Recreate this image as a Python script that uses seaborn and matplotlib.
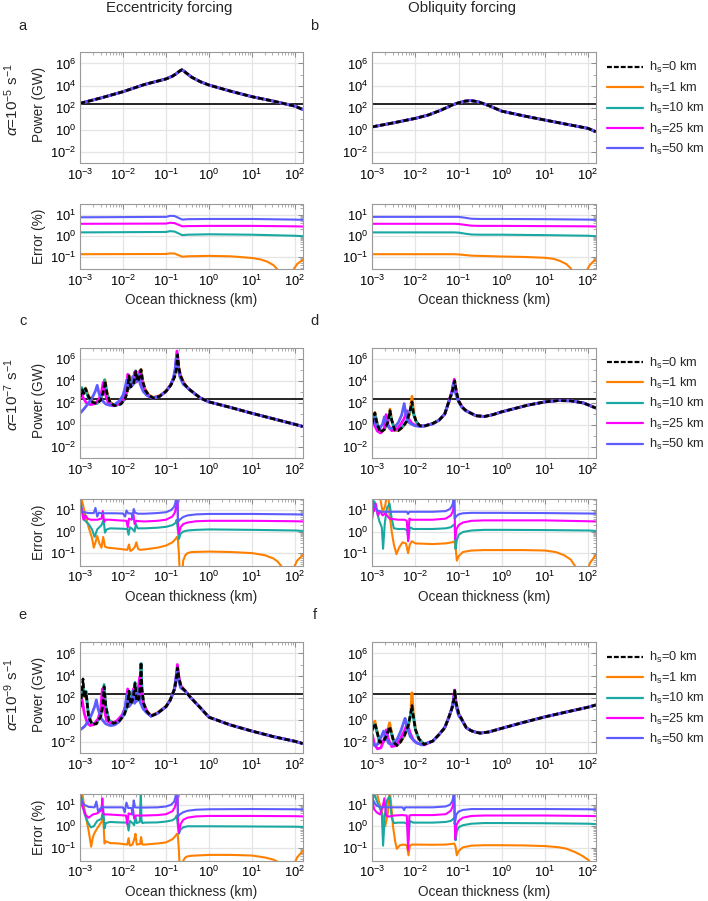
import numpy as np
import matplotlib
matplotlib.use("Agg")
import matplotlib.pyplot as plt
import seaborn as sns
from matplotlib.lines import Line2D
from matplotlib.ticker import FixedLocator, LogLocator, LogFormatterSciNotation, NullFormatter

# ---------------- labels ----------------
SERIES_LABELS = ["h$_s$=0 km", "h$_s$=1 km", "h$_s$=10 km", "h$_s$=25 km", "h$_s$=50 km"]
COLUMN_TITLES = ["Eccentricity forcing", "Obliquity forcing"]
ROW_ALPHA_EXP = [-5, -7, -9]
PANEL_LETTERS = ["a", "b", "c", "d", "e", "f"]
X_TICK_EXP = [-3, -2, -1, 0, 1, 2]
POWER_TICK_EXP = [-2, 0, 2, 4, 6]
ERROR_TICK_EXP = [-1, 0, 1]
THRESHOLD_LOG = 2.32          # horizontal reference power (log10 GW)

# ---------------- data (all values are log10) ----------------
# panel a power (all h_s overlap)
pa_x = [-3.0, -2.5, -2.0, -1.5, -1.2, -1.0, -0.85, -0.75, -0.68, -0.63, -0.58, -0.5, -0.4, -0.2, 0.0, 0.5, 1.0, 1.5, 2.0, 2.18]
pa_y = [2.4, 2.9, 3.45, 4.1, 4.4, 4.6, 4.85, 5.1, 5.32, 5.42, 5.3, 5.05, 4.75, 4.35, 4.05, 3.5, 3.0, 2.6, 2.15, 1.85]
# panel b power
pb_x = [-3.0, -2.5, -2.0, -1.7, -1.4, -1.15, -1.0, -0.85, -0.72, -0.55, -0.3, 0.0, 0.5, 1.0, 1.5, 2.0, 2.18]
pb_y = [0.28, 0.65, 1.05, 1.35, 1.8, 2.25, 2.45, 2.6, 2.65, 2.55, 2.2, 1.7, 1.28, 0.9, 0.52, 0.15, -0.15]

# panel a error
ea_x = [-3.0, -1.0, -0.9, -0.8, -0.62, -0.5, 0.0, 1.0, 2.0, 2.18]
ea_h10 = [0.16, 0.18, 0.22, 0.2, 0.03, 0.05, 0.07, 0.05, 0.0, -0.02]
ea_h25 = [0.57, 0.58, 0.62, 0.6, 0.45, 0.46, 0.47, 0.47, 0.45, 0.44]
ea_h50 = [0.88, 0.9, 0.95, 0.94, 0.77, 0.79, 0.8, 0.8, 0.77, 0.76]
ea_h1_x = [-3.0, -1.0, -0.9, -0.8, -0.62, -0.5, 0.0, 0.5, 1.0, 1.2, 1.35, 1.5, 1.6, 1.7, 1.8, 1.9, 1.97, 2.05, 2.18]
ea_h1_y = [-0.88, -0.87, -0.84, -0.85, -1.0, -0.98, -0.96, -0.98, -1.06, -1.13, -1.23, -1.4, -1.62, -2.1, -2.6, -2.2, -1.6, -1.35, -1.15]
# panel b error
eb_x = [-3.0, -1.1, -1.0, -0.85, -0.7, -0.5, 0.0, 1.0, 2.0, 2.18]
eb_h10 = [0.16, 0.16, 0.15, 0.1, 0.06, 0.05, 0.05, 0.03, 0.0, -0.02]
eb_h25 = [0.57, 0.57, 0.56, 0.52, 0.48, 0.47, 0.47, 0.46, 0.45, 0.44]
eb_h50 = [0.9, 0.9, 0.9, 0.86, 0.81, 0.8, 0.8, 0.79, 0.77, 0.76]
eb_h1_x = [-3.0, -1.1, -1.0, -0.85, -0.7, -0.5, 0.0, 0.5, 1.0, 1.2, 1.35, 1.5, 1.6, 1.7, 1.8, 1.9, 1.97, 2.05, 2.18]
eb_h1_y = [-0.88, -0.88, -0.89, -0.92, -0.95, -0.96, -0.99, -1.01, -1.05, -1.1, -1.2, -1.35, -1.55, -2.0, -2.6, -2.3, -1.65, -1.38, -1.12]

# panel c power
pc_tail_x = [-0.35, -0.2, 0.0, 0.5, 1.0, 1.5, 2.0, 2.18]
pc_tail_y = [2.9, 2.45, 2.1, 1.6, 1.07, 0.57, 0.07, -0.12]
pc_h0_x = [-3.0, -2.95, -2.91, -2.87, -2.8, -2.7, -2.6, -2.52, -2.46, -2.42, -2.37, -2.3, -2.2, -2.05, -1.95, -1.9, -1.86, -1.82, -1.76, -1.72, -1.70, -1.66, -1.62, -1.58, -1.54, -1.48, -1.4, -1.3, -1.15, -1.0, -0.88, -0.8, -0.76, -0.73, -0.70, -0.66, -0.58, -0.48]
pc_h0_y = [2.5, 3.2, 2.85, 3.3, 2.55, 2.05, 1.95, 2.25, 2.95, 4.0, 2.85, 2.05, 1.75, 1.9, 2.35, 3.05, 4.45, 3.45, 3.65, 4.35, 4.85, 3.95, 4.25, 5.0, 3.95, 3.15, 2.7, 2.45, 2.6, 3.05, 3.65, 4.35, 5.0, 6.35, 5.15, 4.45, 3.75, 3.3]
pc_h1_y = [2.6, 3.3, 2.9, 3.35, 2.6, 2.1, 2.0, 2.3, 3.0, 4.1, 2.9, 2.1, 1.8, 1.95, 2.4, 3.1, 4.5, 3.5, 3.7, 4.4, 4.9, 4.0, 4.3, 5.05, 4.0, 3.2, 2.75, 2.5, 2.65, 3.1, 3.7, 4.4, 5.1, 6.45, 5.2, 4.5, 3.8, 3.3]
pc_h10_x = [-3.0, -2.96, -2.92, -2.88, -2.81, -2.71, -2.61, -2.53, -2.47, -2.43, -2.38, -2.31, -2.21, -2.06, -1.96, -1.91, -1.87, -1.83, -1.77, -1.73, -1.71, -1.67, -1.63, -1.59, -1.55, -1.49, -1.41, -1.3, -1.15, -1.0, -0.89, -0.81, -0.77, -0.74, -0.71, -0.67, -0.59, -0.48]
pc_h10_y = [2.7, 3.4, 2.95, 3.3, 2.5, 2.05, 1.95, 2.25, 3.0, 4.1, 2.85, 2.05, 1.75, 1.9, 2.35, 3.05, 4.5, 3.45, 3.65, 4.35, 4.9, 3.95, 4.25, 5.0, 3.95, 3.15, 2.7, 2.45, 2.6, 3.05, 3.65, 4.35, 5.05, 6.5, 5.15, 4.45, 3.75, 3.3]
pc_h25_x = [-3.0, -2.97, -2.93, -2.85, -2.75, -2.65, -2.56, -2.5, -2.46, -2.41, -2.34, -2.24, -2.1, -1.98, -1.93, -1.89, -1.85, -1.79, -1.75, -1.73, -1.69, -1.65, -1.61, -1.57, -1.51, -1.43, -1.32, -1.15, -1.0, -0.9, -0.82, -0.78, -0.745, -0.71, -0.67, -0.59, -0.48]
pc_h25_y = [2.8, 2.95, 2.5, 2.0, 1.85, 1.95, 2.3, 3.0, 3.85, 2.8, 2.0, 1.75, 1.9, 2.35, 3.1, 4.6, 3.45, 3.6, 4.3, 4.8, 3.9, 4.2, 4.9, 3.9, 3.1, 2.7, 2.45, 2.6, 3.05, 3.6, 4.3, 5.1, 6.7, 5.2, 4.45, 3.75, 3.3]
pc_h50_x = [-3.0, -2.9, -2.8, -2.7, -2.64, -2.6, -2.56, -2.5, -2.4, -2.3, -2.2, -2.08, -2.0, -1.95, -1.91, -1.86, -1.8, -1.77, -1.73, -1.68, -1.64, -1.6, -1.53, -1.45, -1.33, -1.15, -1.0, -0.9, -0.83, -0.79, -0.755, -0.72, -0.68, -0.6, -0.48]
pc_h50_y = [1.07, 1.5, 2.0, 2.6, 3.1, 3.6, 2.9, 2.3, 1.9, 1.78, 1.85, 2.2, 2.7, 3.4, 4.1, 3.3, 3.6, 4.4, 3.8, 4.1, 4.6, 3.7, 3.05, 2.7, 2.45, 2.6, 3.05, 3.55, 4.2, 5.0, 6.3, 5.1, 4.4, 3.7, 3.3]

# panel d power
pd_tail_x = [-0.75, -0.6, -0.4, -0.2, 0.0, 0.3, 0.6, 1.0, 1.3, 1.6, 1.9, 2.18]
pd_tail_y = [1.15, 0.85, 0.78, 0.95, 1.2, 1.5, 1.8, 2.1, 2.22, 2.2, 2.0, 1.55]
pd_h1_x = [-3.0, -2.97, -2.94, -2.9, -2.82, -2.72, -2.64, -2.59, -2.55, -2.48, -2.4, -2.3, -2.2, -2.13, -2.08, -2.04, -1.98, -1.9, -1.8, -1.6, -1.45, -1.32, -1.22, -1.15, -1.09, -1.05, -1.0, -0.92, -0.84]
pd_h1_y = [0.2, 0.7, 1.15, 0.4, -0.7, -0.4, 0.3, 1.45, 0.5, -0.45, -0.5, -0.2, 0.3, 1.1, 2.6, 1.1, 0.3, -0.05, -0.1, 0.15, 0.45, 1.0, 2.2, 3.0, 4.05, 3.0, 2.2, 1.65, 1.35]
pd_h0_y = [0.15, 0.75, 1.1, 0.3, -0.65, -0.4, 0.25, 1.3, 0.45, -0.45, -0.5, -0.2, 0.35, 1.2, 2.1, 1.0, 0.3, -0.05, -0.1, 0.15, 0.45, 1.0, 2.2, 3.0, 4.0, 3.0, 2.2, 1.65, 1.35]
pd_h10_y = [0.3, 0.9, 1.0, 0.3, -0.6, -0.35, 0.3, 1.2, 0.4, -0.4, -0.45, -0.15, 0.4, 1.3, 1.7, 0.9, 0.3, -0.05, -0.1, 0.15, 0.45, 1.0, 2.2, 3.0, 4.0, 3.0, 2.2, 1.65, 1.35]
pd_h25_x = [-3.0, -2.95, -2.88, -2.8, -2.72, -2.68, -2.63, -2.55, -2.45, -2.35, -2.26, -2.2, -2.16, -2.08, -1.98, -1.85, -1.6, -1.45, -1.32, -1.22, -1.15, -1.1, -1.06, -1.0, -0.92, -0.84]
pd_h25_y = [0.9, 0.0, -0.55, -0.7, -0.3, 0.95, 0.0, -0.5, -0.4, 0.0, 0.6, 1.3, 0.6, 0.15, -0.05, -0.1, 0.12, 0.45, 1.0, 2.2, 3.1, 4.15, 3.0, 2.2, 1.65, 1.35]
pd_h50_x = [-3.0, -2.96, -2.9, -2.83, -2.76, -2.72, -2.68, -2.6, -2.5, -2.4, -2.32, -2.26, -2.22, -2.14, -2.02, -1.88, -1.6, -1.45, -1.32, -1.22, -1.16, -1.12, -1.08, -1.0, -0.92, -0.84]
pd_h50_y = [1.0, 0.5, -0.1, -0.3, 0.1, 0.75, 0.2, -0.3, -0.25, 0.2, 0.9, 1.95, 0.9, 0.2, -0.05, -0.12, 0.1, 0.45, 1.05, 2.1, 2.8, 3.8, 3.0, 2.1, 1.6, 1.3]

# panel e power
pe_tail_x = [-0.3, -0.2, 0.0, 0.5, 1.0, 1.5, 2.0, 2.18]
pe_tail_y = [1.5, 1.1, 0.25, -0.45, -1.0, -1.5, -1.92, -2.12]
pe_h0_x = [-3.0, -2.96, -2.93, -2.9, -2.86, -2.8, -2.72, -2.62, -2.52, -2.47, -2.44, -2.4, -2.33, -2.22, -2.1, -1.98, -1.9, -1.86, -1.82, -1.76, -1.72, -1.68, -1.63, -1.6, -1.58, -1.56, -1.52, -1.45, -1.35, -1.2, -1.0, -0.9, -0.8, -0.76, -0.73, -0.7, -0.65, -0.55, -0.42]
pe_h0_y = [1.2, 2.3, 3.7, 2.0, 2.5, 0.3, -0.4, -0.35, 0.3, 1.3, 3.0, 1.2, -0.05, -0.3, -0.15, 0.4, 1.2, 2.6, 1.4, 2.0, 3.3, 1.7, 1.9, 3.0, 5.2, 2.8, 1.5, 0.8, 0.35, 0.6, 1.2, 1.8, 2.8, 3.7, 4.7, 3.8, 3.0, 2.6, 2.0]
pe_h1_y = [1.3, 2.2, 3.0, 2.1, 2.4, 0.35, -0.35, -0.3, 0.35, 1.3, 2.9, 1.2, 0.0, -0.28, -0.12, 0.45, 1.25, 2.5, 1.45, 2.05, 3.2, 1.75, 1.95, 3.1, 4.6, 2.8, 1.55, 0.85, 0.4, 0.65, 1.25, 1.85, 2.85, 3.75, 4.75, 3.85, 3.05, 2.65, 2.0]
pe_h10_y = [1.4, 2.4, 2.9, 2.2, 2.6, 0.35, -0.35, -0.3, 0.35, 1.4, 3.2, 1.25, 0.0, -0.28, -0.12, 0.45, 1.2, 2.6, 1.4, 2.0, 3.4, 1.7, 1.9, 3.1, 5.1, 2.8, 1.5, 0.8, 0.35, 0.6, 1.2, 1.8, 2.8, 3.7, 4.7, 3.8, 3.0, 2.6, 2.0]
pe_h25_x = [-3.0, -2.95, -2.9, -2.83, -2.76, -2.68, -2.58, -2.52, -2.48, -2.44, -2.38, -2.28, -2.15, -2.02, -1.94, -1.89, -1.85, -1.79, -1.76, -1.72, -1.68, -1.65, -1.61, -1.57, -1.52, -1.45, -1.35, -1.2, -1.0, -0.9, -0.8, -0.765, -0.735, -0.7, -0.65, -0.55, -0.42]
pe_h25_y = [1.1, 1.8, 0.6, -0.3, -0.5, -0.4, 0.1, 0.9, 2.8, 1.0, -0.05, -0.3, -0.1, 0.45, 1.2, 2.8, 1.3, 1.9, 2.8, 1.6, 1.8, 2.7, 3.9, 2.3, 1.4, 0.8, 0.35, 0.6, 1.2, 1.8, 2.8, 3.8, 5.0, 3.8, 3.0, 2.6, 2.0]
pe_h50_x = [-3.0, -2.9, -2.8, -2.72, -2.66, -2.62, -2.58, -2.5, -2.4, -2.3, -2.2, -2.1, -2.0, -1.95, -1.91, -1.86, -1.8, -1.77, -1.73, -1.69, -1.65, -1.6, -1.53, -1.45, -1.35, -1.2, -1.0, -0.9, -0.81, -0.775, -0.745, -0.71, -0.66, -0.55, -0.42]
pe_h50_y = [-0.9, -0.6, -0.1, 0.6, 1.2, 1.8, 1.0, 0.1, -0.35, -0.5, -0.45, -0.2, 0.4, 1.2, 2.3, 1.2, 1.6, 2.6, 1.5, 1.8, 2.8, 1.6, 1.0, 0.65, 0.35, 0.6, 1.2, 1.8, 2.7, 3.6, 4.5, 3.6, 2.9, 2.6, 2.0]

# panel f power
pf_tail_x = [-0.6, -0.5, -0.3, 0.0, 0.5, 1.0, 1.5, 2.0, 2.18]
pf_tail_y = [-1.1, -1.18, -1.08, -0.75, -0.22, 0.28, 0.72, 1.15, 1.35]
pf_h1_x = [-3.0, -2.97, -2.94, -2.9, -2.83, -2.74, -2.66, -2.6, -2.56, -2.5, -2.43, -2.35, -2.25, -2.16, -2.11, -2.08, -2.05, -2.0, -1.92, -1.8, -1.6, -1.45, -1.32, -1.22, -1.15, -1.11, -1.085, -1.06, -1.0, -0.93, -0.82, -0.7]
pf_h1_y = [-1.0, -0.4, -0.1, -0.8, -2.1, -1.9, -1.2, -0.25, -1.0, -2.0, -2.3, -2.0, -1.4, -0.5, 0.5, 2.45, 0.6, -0.8, -1.7, -2.2, -1.9, -1.3, -0.7, 0.3, 1.1, 1.8, 2.6, 1.6, 0.6, 0.1, -0.7, -0.98]
pf_h0_y = [-0.9, -0.5, -0.3, -0.9, -2.0, -1.95, -1.3, -0.6, -1.1, -2.0, -2.3, -2.0, -1.35, -0.4, 0.6, 1.3, 0.4, -0.85, -1.7, -2.2, -1.9, -1.3, -0.7, 0.3, 1.1, 1.8, 2.65, 1.6, 0.6, 0.1, -0.7, -0.98]
pf_h10_y = [-0.8, -0.6, -0.4, -1.0, -1.9, -1.95, -1.35, -0.8, -1.2, -2.0, -2.25, -1.95, -1.3, -0.35, 0.5, 0.9, 0.3, -0.9, -1.7, -2.2, -1.9, -1.3, -0.7, 0.3, 1.1, 1.8, 2.55, 1.6, 0.6, 0.1, -0.7, -0.98]
pf_h25_x = [-3.0, -2.95, -2.88, -2.8, -2.72, -2.68, -2.63, -2.55, -2.45, -2.35, -2.26, -2.2, -2.16, -2.12, -2.05, -1.95, -1.8, -1.6, -1.45, -1.32, -1.22, -1.15, -1.12, -1.095, -1.07, -1.0, -0.93, -0.82, -0.7]
pf_h25_y = [-1.3, -2.2, -2.6, -2.5, -1.7, -0.9, -1.7, -2.4, -2.3, -1.7, -1.0, -0.45, -0.7, -1.2, -1.8, -2.1, -2.25, -1.9, -1.3, -0.7, 0.3, 1.1, 1.8, 2.7, 1.6, 0.5, 0.05, -0.7, -0.98]
pf_h50_x = [-3.0, -2.95, -2.88, -2.8, -2.74, -2.7, -2.62, -2.52, -2.42, -2.33, -2.27, -2.24, -2.2, -2.12, -2.0, -1.85, -1.6, -1.45, -1.32, -1.22, -1.16, -1.13, -1.1, -1.07, -1.0, -0.93, -0.82, -0.7]
pf_h50_y = [-1.9, -2.3, -2.2, -1.6, -1.0, -1.4, -2.1, -2.2, -1.7, -0.9, -0.2, 0.15, -0.5, -1.5, -2.0, -2.25, -1.9, -1.3, -0.65, 0.3, 1.0, 1.6, 2.2, 1.4, 0.4, 0.0, -0.7, -0.98]

# panel c error
ec_h1_x = [-3.0, -2.96, -2.88, -2.8, -2.72, -2.68, -2.64, -2.6, -2.55, -2.5, -2.46, -2.42, -2.35, -2.1, -1.9, -1.86, -1.83, -1.78, -1.72, -1.69, -1.65, -1.6, -1.5, -1.2, -1.0, -0.85, -0.78, -0.745, -0.725, -0.7, -0.67, -0.64, -0.6, -0.55, -0.5, -0.4, 0.0, 0.5, 1.0, 1.3, 1.5, 1.6, 1.7, 1.8, 1.9, 1.97, 2.05, 2.18]
ec_h1_y = [2.0, 1.5, 0.8, 0.2, -0.3, -0.75, -0.5, -0.2, -0.55, -0.75, -0.25, -0.7, -0.75, -0.8, -0.85, -0.6, -0.9, -0.85, -0.7, -0.5, -0.8, -0.85, -0.83, -0.75, -0.65, -0.5, -0.35, -0.25, -0.35, -1.0, -2.5, -2.5, -1.35, -1.1, -1.0, -0.95, -0.93, -0.95, -1.0, -1.1, -1.25, -1.4, -1.65, -2.3, -2.4, -1.7, -1.35, -1.1]
ec_h10_x = [-3.0, -2.95, -2.88, -2.8, -2.72, -2.66, -2.6, -2.5, -2.45, -2.42, -2.38, -2.3, -2.1, -1.9, -1.87, -1.84, -1.78, -1.73, -1.7, -1.66, -1.6, -1.5, -1.2, -1.0, -0.85, -0.78, -0.75, -0.73, -0.7, -0.66, -0.6, -0.5, -0.3, 0.0, 1.0, 2.0, 2.18]
ec_h10_y = [1.5, 1.0, 0.5, 0.35, 0.1, -0.25, 0.1, 0.3, 0.55, -0.05, 0.1, 0.15, 0.14, 0.12, -0.15, 0.2, 0.12, 0.0, 0.35, 0.15, 0.15, 0.15, 0.18, 0.22, 0.3, 0.4, 0.55, 0.2, -0.35, -0.1, 0.0, 0.05, 0.08, 0.1, 0.08, 0.05, 0.03]
ec_h25_x = [-3.0, -2.96, -2.92, -2.87, -2.82, -2.75, -2.6, -2.5, -2.47, -2.44, -2.4, -2.3, -2.1, -1.92, -1.89, -1.86, -1.8, -1.76, -1.73, -1.69, -1.6, -1.5, -1.2, -1.0, -0.85, -0.79, -0.76, -0.745, -0.735, -0.72, -0.7, -0.66, -0.6, -0.5, -0.3, 0.0, 1.0, 2.0, 2.18]
ec_h25_y = [1.4, 1.0, 0.55, 0.75, 0.6, 0.55, 0.55, 0.6, 0.95, 0.45, 0.55, 0.55, 0.52, 0.5, 0.2, 0.6, 0.55, 0.85, 0.35, 0.5, 0.48, 0.47, 0.5, 0.55, 0.7, 0.9, 1.2, 1.8, 2.0, 0.3, -0.1, 0.2, 0.35, 0.42, 0.48, 0.5, 0.5, 0.48, 0.47]
ec_h50_x = [-3.0, -2.9, -2.8, -2.68, -2.64, -2.6, -2.56, -2.5, -2.2, -2.0, -1.95, -1.92, -1.88, -1.8, -1.78, -1.75, -1.72, -1.65, -1.5, -1.2, -1.0, -0.88, -0.81, -0.78, -0.765, -0.75, -0.74, -0.72, -0.68, -0.6, -0.5, -0.3, 0.0, 1.0, 2.0, 2.18]
ec_h50_y = [0.95, 0.9, 0.86, 0.86, 1.1, 0.7, 0.88, 0.85, 0.85, 0.84, 0.7, 0.98, 0.85, 0.84, 0.6, 1.05, 0.88, 0.83, 0.83, 0.86, 0.9, 1.0, 1.15, 1.35, 1.6, 2.0, 2.0, 0.45, 0.55, 0.68, 0.75, 0.8, 0.82, 0.82, 0.8, 0.79]

# panel d error
ed_h1_x = [-3.0, -2.96, -2.9, -2.82, -2.76, -2.7, -2.66, -2.63, -2.6, -2.55, -2.5, -2.44, -2.38, -2.3, -2.22, -2.17, -2.13, -2.08, -2.0, -1.6, -1.3, -1.15, -1.1, -1.07, -1.04, -1.0, -0.9, -0.7, -0.4, 0.0, 0.5, 1.0, 1.25, 1.45, 1.6, 1.7, 1.78, 1.85, 1.95, 2.05, 2.18]
ed_h1_y = [1.2, 1.8, 1.8, 1.6, 0.9, 1.2, 1.8, 1.9, 0.8, 0.0, -0.6, -1.05, -0.75, -0.5, -0.55, -1.0, -0.6, -0.45, -0.55, -0.58, -0.55, -0.5, -0.45, -0.7, -1.35, -1.15, -0.95, -0.88, -0.86, -0.86, -0.86, -0.88, -0.95, -1.1, -1.3, -1.6, -2.2, -2.5, -2.0, -1.45, -1.1]
ed_h10_x = [-3.0, -2.95, -2.9, -2.84, -2.78, -2.75, -2.71, -2.66, -2.6, -2.55, -2.5, -2.4, -2.25, -2.19, -2.16, -2.13, -2.05, -1.6, -1.3, -1.18, -1.12, -1.09, -1.07, -1.04, -1.0, -0.9, -0.7, -0.4, 0.0, 1.0, 2.0, 2.18]
ed_h10_y = [0.6, 1.4, 1.0, 0.5, 0.2, -0.8, 0.4, 1.1, 1.3, 0.6, 0.15, 0.12, 0.12, 0.05, -0.35, 0.2, 0.12, 0.12, 0.15, 0.2, 0.3, 0.35, -0.8, -0.4, -0.15, -0.02, 0.05, 0.08, 0.08, 0.07, 0.05, 0.03]
ed_h25_x = [-3.0, -2.96, -2.92, -2.87, -2.82, -2.76, -2.7, -2.6, -2.4, -2.25, -2.2, -2.17, -2.14, -2.1, -1.6, -1.3, -1.18, -1.13, -1.11, -1.095, -1.08, -1.05, -1.0, -0.9, -0.7, -0.4, 0.0, 1.0, 2.0, 2.18]
ed_h25_y = [1.45, 0.95, 1.3, 0.75, 0.95, 0.75, 0.85, 0.6, 0.55, 0.55, 0.5, -0.45, 0.6, 0.55, 0.55, 0.6, 0.75, 0.95, 1.3, 1.7, -0.35, 0.1, 0.3, 0.42, 0.5, 0.52, 0.52, 0.52, 0.48, 0.47]
ed_h50_x = [-3.0, -2.95, -2.9, -2.8, -2.6, -2.3, -2.2, -2.17, -2.14, -1.6, -1.3, -1.2, -1.15, -1.12, -1.11, -1.09, -1.05, -1.0, -0.9, -0.7, -0.4, 0.0, 1.0, 2.0, 2.18]
ed_h50_y = [1.1, 1.25, 1.0, 0.92, 0.92, 0.92, 0.92, 0.82, 0.92, 0.92, 0.95, 1.05, 1.2, 1.4, 1.6, 0.6, 0.72, 0.8, 0.85, 0.87, 0.87, 0.87, 0.86, 0.84, 0.83]

# panel e error
ee_h1_x = [-3.0, -2.95, -2.88, -2.8, -2.74, -2.7, -2.66, -2.6, -2.5, -2.46, -2.43, -2.4, -2.3, -2.1, -1.9, -1.87, -1.84, -1.78, -1.73, -1.71, -1.68, -1.6, -1.58, -1.55, -1.5, -1.2, -1.0, -0.85, -0.78, -0.745, -0.725, -0.7, -0.67, -0.64, -0.6, -0.55, -0.5, -0.4, 0.0, 0.5, 1.0, 1.3, 1.5, 1.6, 1.7, 1.8, 1.9, 1.97, 2.05, 2.18]
ee_h1_y = [2.0, 1.6, 0.6, -0.2, -0.95, -0.5, -0.3, -0.1, 0.2, 0.4, -0.8, -0.7, -0.78, -0.8, -0.85, -0.55, -0.9, -0.85, -0.55, -0.35, -0.85, -0.82, -0.5, -0.85, -0.85, -0.8, -0.75, -0.6, -0.45, -0.35, -0.42, -1.1, -2.5, -2.5, -1.6, -1.45, -1.4, -1.37, -1.33, -1.33, -1.36, -1.45, -1.55, -1.65, -1.9, -2.4, -2.5, -1.8, -1.45, -1.15]
ee_h10_x = [-3.0, -2.95, -2.9, -2.82, -2.75, -2.68, -2.6, -2.5, -2.46, -2.43, -2.4, -2.3, -2.1, -1.9, -1.87, -1.84, -1.78, -1.74, -1.71, -1.68, -1.61, -1.585, -1.57, -1.55, -1.5, -1.2, -1.0, -0.85, -0.78, -0.75, -0.73, -0.7, -0.66, -0.6, -0.5, -0.3, 0.0, 1.0, 2.0, 2.18]
ee_h10_y = [1.6, 1.2, 0.6, 0.2, -0.05, 0.0, 0.25, 0.35, 0.8, -0.1, 0.15, 0.2, 0.18, 0.17, -0.2, 0.25, 0.15, 0.05, 0.45, 0.15, 0.2, 1.6, 0.3, 0.15, 0.17, 0.18, 0.22, 0.28, 0.38, 0.5, 0.15, -0.35, -0.15, -0.05, 0.0, 0.0, 0.0, -0.01, -0.02, -0.03]
ee_h25_x = [-3.0, -2.96, -2.92, -2.86, -2.8, -2.7, -2.6, -2.5, -2.48, -2.46, -2.43, -2.35, -2.1, -1.93, -1.9, -1.87, -1.8, -1.77, -1.74, -1.7, -1.6, -1.5, -1.2, -1.0, -0.85, -0.79, -0.76, -0.745, -0.735, -0.72, -0.7, -0.66, -0.6, -0.5, -0.3, 0.0, 1.0, 2.0, 2.18]
ee_h25_y = [1.5, 1.0, 0.8, 0.5, 0.4, 0.55, 0.6, 0.75, 1.3, 0.6, 0.55, 0.55, 0.52, 0.5, 0.1, 0.6, 0.55, 0.85, 0.35, 0.5, 0.5, 0.5, 0.52, 0.56, 0.7, 0.9, 1.2, 1.8, 2.0, 0.2, -0.3, 0.1, 0.3, 0.4, 0.46, 0.48, 0.48, 0.47, 0.46]
ee_h50_x = [-3.0, -2.9, -2.8, -2.66, -2.62, -2.58, -2.5, -2.2, -2.0, -1.96, -1.92, -1.88, -1.8, -1.78, -1.75, -1.72, -1.65, -1.5, -1.2, -1.0, -0.88, -0.81, -0.78, -0.765, -0.75, -0.74, -0.72, -0.68, -0.6, -0.5, -0.3, 0.0, 1.0, 2.0, 2.18]
ee_h50_y = [1.3, 1.0, 0.9, 0.88, 1.15, 0.7, 0.88, 0.88, 0.88, 0.65, 1.1, 0.85, 0.85, 0.55, 1.2, 0.88, 0.87, 0.87, 0.88, 0.92, 1.0, 1.15, 1.35, 1.6, 2.0, 2.0, 0.45, 0.55, 0.65, 0.72, 0.77, 0.79, 0.8, 0.79, 0.78]

# panel f error
ef_h1_x = [-3.0, -2.96, -2.9, -2.84, -2.78, -2.7, -2.64, -2.6, -2.57, -2.52, -2.47, -2.43, -2.36, -2.28, -2.2, -2.16, -2.13, -2.08, -2.0, -1.6, -1.3, -1.15, -1.1, -1.07, -1.04, -1.0, -0.9, -0.7, -0.4, 0.0, 0.5, 1.0, 1.3, 1.5, 1.7, 1.85, 2.0, 2.18]
ef_h1_y = [1.3, 1.7, 1.6, 1.1, 0.7, 0.0, 0.6, 1.7, 1.2, 0.0, -0.7, -1.05, -0.88, -0.85, -0.88, -1.35, -0.9, -0.85, -0.85, -0.86, -0.85, -0.82, -0.8, -0.95, -1.35, -1.15, -0.98, -0.9, -0.88, -0.88, -0.89, -0.92, -0.97, -1.04, -1.2, -1.35, -1.55, -1.9]
ef_h10_x = [-3.0, -2.95, -2.9, -2.84, -2.78, -2.75, -2.71, -2.66, -2.6, -2.55, -2.5, -2.4, -2.25, -2.19, -2.16, -2.13, -2.05, -1.6, -1.3, -1.18, -1.12, -1.09, -1.07, -1.04, -1.0, -0.9, -0.7, -0.4, 0.0, 1.0, 2.0, 2.18]
ef_h10_y = [1.2, 1.5, 1.2, 0.9, 0.6, -0.9, 0.5, 1.2, 1.4, 0.4, 0.15, 0.17, 0.17, 0.1, -0.65, 0.25, 0.17, 0.17, 0.2, 0.25, 0.35, 0.42, -0.65, -0.25, -0.05, 0.05, 0.12, 0.15, 0.15, 0.14, 0.12, 0.1]
ef_h25_x = [-3.0, -2.96, -2.9, -2.82, -2.76, -2.72, -2.68, -2.62, -2.5, -2.3, -2.2, -2.17, -2.14, -2.1, -1.6, -1.3, -1.18, -1.13, -1.11, -1.095, -1.08, -1.05, -1.0, -0.9, -0.7, -0.4, 0.0, 1.0, 2.0, 2.18]
ef_h25_y = [1.3, 0.8, 0.65, 0.55, 0.9, 1.3, 0.5, 0.45, 0.5, 0.52, 0.5, -1.1, 0.5, 0.52, 0.52, 0.56, 0.72, 0.95, 1.3, 1.7, -0.6, 0.05, 0.25, 0.4, 0.48, 0.5, 0.5, 0.5, 0.48, 0.47]
ef_h50_x = [-3.0, -2.95, -2.9, -2.8, -2.6, -2.3, -2.26, -2.24, -2.2, -1.6, -1.3, -1.2, -1.15, -1.12, -1.11, -1.09, -1.05, -1.0, -0.9, -0.7, -0.4, 0.0, 1.0, 2.0, 2.18]
ef_h50_y = [1.3, 1.1, 0.95, 0.9, 0.88, 0.88, 0.75, 0.88, 0.88, 0.88, 0.92, 1.0, 1.15, 1.35, 1.6, 0.1, 0.55, 0.68, 0.76, 0.8, 0.8, 0.8, 0.8, 0.79, 0.78]

# ---------------- assemble per panel (series order: 0,1,10,25,50 km) ----------------
POWER = {
    "a": [(pa_x, pa_y)] * 5,
    "b": [(pb_x, pb_y)] * 5,
    "c": [(pc_h0_x + pc_tail_x, pc_h0_y + pc_tail_y), (pc_h0_x + pc_tail_x, pc_h1_y + pc_tail_y),
          (pc_h10_x + pc_tail_x, pc_h10_y + pc_tail_y), (pc_h25_x + pc_tail_x, pc_h25_y + pc_tail_y),
          (pc_h50_x + pc_tail_x, pc_h50_y + pc_tail_y)],
    "d": [(pd_h1_x + pd_tail_x, pd_h0_y + pd_tail_y), (pd_h1_x + pd_tail_x, pd_h1_y + pd_tail_y),
          (pd_h1_x + pd_tail_x, pd_h10_y + pd_tail_y), (pd_h25_x + pd_tail_x, pd_h25_y + pd_tail_y),
          (pd_h50_x + pd_tail_x, pd_h50_y + pd_tail_y)],
    "e": [(pe_h0_x + pe_tail_x, pe_h0_y + pe_tail_y), (pe_h0_x + pe_tail_x, pe_h1_y + pe_tail_y),
          (pe_h0_x + pe_tail_x, pe_h10_y + pe_tail_y), (pe_h25_x + pe_tail_x, pe_h25_y + pe_tail_y),
          (pe_h50_x + pe_tail_x, pe_h50_y + pe_tail_y)],
    "f": [(pf_h1_x + pf_tail_x, pf_h0_y + pf_tail_y), (pf_h1_x + pf_tail_x, pf_h1_y + pf_tail_y),
          (pf_h1_x + pf_tail_x, pf_h10_y + pf_tail_y), (pf_h25_x + pf_tail_x, pf_h25_y + pf_tail_y),
          (pf_h50_x + pf_tail_x, pf_h50_y + pf_tail_y)],
}
ERROR = {   # series order: 1, 10, 25, 50 km
    "a": [(ea_h1_x, ea_h1_y), (ea_x, ea_h10), (ea_x, ea_h25), (ea_x, ea_h50)],
    "b": [(eb_h1_x, eb_h1_y), (eb_x, eb_h10), (eb_x, eb_h25), (eb_x, eb_h50)],
    "c": [(ec_h1_x, ec_h1_y), (ec_h10_x, ec_h10_y), (ec_h25_x, ec_h25_y), (ec_h50_x, ec_h50_y)],
    "d": [(ed_h1_x, ed_h1_y), (ed_h10_x, ed_h10_y), (ed_h25_x, ed_h25_y), (ed_h50_x, ed_h50_y)],
    "e": [(ee_h1_x, ee_h1_y), (ee_h10_x, ee_h10_y), (ee_h25_x, ee_h25_y), (ee_h50_x, ee_h50_y)],
    "f": [(ef_h1_x, ef_h1_y), (ef_h10_x, ef_h10_y), (ef_h25_x, ef_h25_y), (ef_h50_x, ef_h50_y)],
}

# ---------------- style ----------------
COLORS = ["#000000", "#FF8000", "#1AA8A2", "#FF00FF", "#5C5CFF"]
DASH = (0, (2.0, 1.0))

sns.set_theme(style="white")
plt.rcParams["font.family"] = ["Liberation Sans", "DejaVu Sans"]
plt.rcParams["mathtext.fontset"] = "custom"
plt.rcParams["mathtext.rm"] = "Liberation Sans"
plt.rcParams["mathtext.it"] = "Liberation Sans:italic"
plt.rcParams["mathtext.default"] = "regular"
plt.rcParams["axes.unicode_minus"] = True

W, H = 708, 901
fig = plt.figure(figsize=(W / 100, H / 100), dpi=100)
fig.patch.set_facecolor("white")


def rect(left, top, right, bottom):
    return [left / W, 1 - bottom / H, (right - left) / W, (bottom - top) / H]


COLS = [(80.0, 302.7), (372.3, 595.7)]
POW_ROWS = [(52.3, 163.3), (347.7, 458.3), (642.3, 753.3)]
ERR_ROWS = [(204.3, 269.3), (499.3, 566.0), (794.0, 860.7)]
TICK_FS = 9.3
LABEL_FS = 9.8


def style_axes(ax, kind):
    ax.set_xscale("log")
    ax.set_yscale("log")
    ax.set_xlim(1e-3, 10 ** 2.18)
    if kind == "power":
        ax.set_ylim(1e-3, 1e7)
        ax.yaxis.set_major_locator(FixedLocator([10.0 ** k for k in POWER_TICK_EXP]))
        ax.yaxis.set_minor_locator(FixedLocator([10.0 ** k for k in range(-3, 8)]))
    else:
        ax.set_ylim(10 ** -1.6, 10 ** 1.5)
        ax.yaxis.set_major_locator(FixedLocator([10.0 ** k for k in ERROR_TICK_EXP]))
        ax.yaxis.set_minor_locator(LogLocator(base=10, subs=np.arange(2, 10) * 1.0, numticks=30))
    ax.xaxis.set_major_locator(FixedLocator([10.0 ** k for k in X_TICK_EXP]))
    ax.xaxis.set_minor_locator(LogLocator(base=10, subs=np.arange(2, 10) * 1.0, numticks=30))
    ax.xaxis.set_major_formatter(LogFormatterSciNotation())
    ax.yaxis.set_major_formatter(LogFormatterSciNotation())
    ax.xaxis.set_minor_formatter(NullFormatter())
    ax.yaxis.set_minor_formatter(NullFormatter())
    ax.grid(True, which="major", color="#e4e4e4", lw=0.9)
    ax.set_axisbelow(True)
    ax.tick_params(which="both", direction="in", top=True, right=True, color="#8c8c8c",
                   labelsize=TICK_FS, labelcolor="black", pad=3)
    ax.tick_params(which="major", length=3.5, width=0.7)
    ax.tick_params(which="minor", length=2, width=0.5)
    for s in ax.spines.values():
        s.set_color("#9a9a9a")
        s.set_linewidth(0.8)
    ax.set_xlabel("")
    ax.set_ylabel("")


def draw(ax, lx, ly, color, lw, dashed=False):
    x = np.power(10.0, np.asarray(lx, dtype=float))
    y = np.power(10.0, np.asarray(ly, dtype=float))
    if dashed:
        sns.lineplot(x=x, y=y, ax=ax, color=color, linewidth=lw, linestyle=DASH,
                     estimator=None, sort=False, legend=False)
    else:
        sns.lineplot(x=x, y=y, ax=ax, color=color, linewidth=lw,
                     estimator=None, sort=False, legend=False)


for r in range(3):
    for c in range(2):
        key = PANEL_LETTERS[2 * r + c]
        l, rr = COLS[c]
        axp = fig.add_axes(rect(l, POW_ROWS[r][0], rr, POW_ROWS[r][1]))
        axe = fig.add_axes(rect(l, ERR_ROWS[r][0], rr, ERR_ROWS[r][1]))
        style_axes(axp, "power")
        style_axes(axe, "error")

        axp.axhline(10 ** THRESHOLD_LOG, color="black", lw=1.2, zorder=1.5)
        series = POWER[key]
        for i in [1, 2, 3, 4]:
            draw(axp, series[i][0], series[i][1], COLORS[i], 2.0)
        draw(axp, series[0][0], series[0][1], COLORS[0], 1.9, dashed=True)

        for j, (ex, ey) in enumerate(ERROR[key]):
            draw(axe, ex, ey, COLORS[j + 1], 1.5)
        style_axes(axp, "power")
        style_axes(axe, "error")

        # panel letter
        lx_pos = 22.7 if c == 0 else 314.5
        ly_pos = [25.7, 320.7, 615.0][r]
        fig.text(lx_pos / W, 1 - ly_pos / H, key, fontsize=10.5, ha="center", va="center")

        # x label under the error axes
        fig.text((l + rr) / 2 / W, 1 - (ERR_ROWS[r][1] + 31) / H, "Ocean thickness (km)",
                 fontsize=LABEL_FS, ha="center", va="center")

        if c == 0:
            fig.text(39.3 / W, 1 - ((POW_ROWS[r][0] + POW_ROWS[r][1]) / 2 - 3) / H, "Power (GW)",
                     fontsize=LABEL_FS, rotation=90, ha="center", va="center")
            fig.text(39.3 / W, 1 - ((ERR_ROWS[r][0] + ERR_ROWS[r][1]) / 2) / H, "Error (%)",
                     fontsize=LABEL_FS, rotation=90, ha="center", va="center")
            fig.text(11.7 / W, 1 - [100, 395, 695][r] / H,
                     r"$\mathit{\alpha}$=10$^{%d}$ s$^{-1}$" % ROW_ALPHA_EXP[r],
                     fontsize=11, rotation=90, ha="center", va="center")
        else:
            handles = [Line2D([], [], color=COLORS[0], lw=1.6, linestyle=(0, (2.2, 0.9)))] + \
                      [Line2D([], [], color=COLORS[i], lw=1.6) for i in range(1, 5)]
            axp.legend(handles, SERIES_LABELS, loc="upper left",
                       bbox_to_anchor=((607 - l) / (rr - l), 0.93), frameon=False,
                       fontsize=9.2, handlelength=2.85, handletextpad=0.45,
                       labelspacing=0.42, borderpad=0, borderaxespad=0)

fig.text(169 / W, 1 - 8 / H, COLUMN_TITLES[0], fontsize=10.8, ha="center", va="center")
fig.text(462 / W, 1 - 8 / H, COLUMN_TITLES[1], fontsize=10.8, ha="center", va="center")

fig.savefig("out.png", dpi=100, facecolor="white")
